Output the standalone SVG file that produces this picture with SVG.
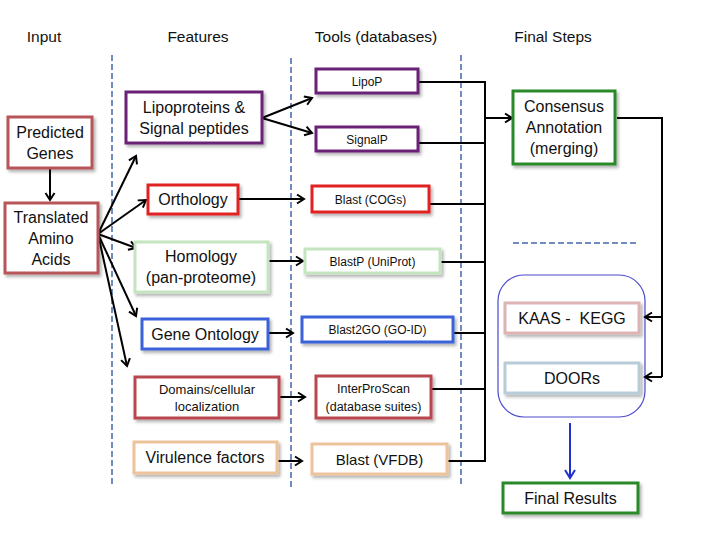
<svg xmlns="http://www.w3.org/2000/svg" width="720" height="540" viewBox="0 0 720 540">
<defs>
<filter id="sh" x="-20%" y="-20%" width="150%" height="160%">
<feDropShadow dx="2" dy="2.5" stdDeviation="1.5" flood-color="#000" flood-opacity="0.3"/>
</filter>
<marker id="ah" markerWidth="12" markerHeight="12" refX="9" refY="6" orient="auto" markerUnits="userSpaceOnUse">
<path d="M2,1.5 L9,6 L2,10.5" fill="none" stroke="#000" stroke-width="2"/>
</marker>
<marker id="ahb" markerWidth="14" markerHeight="14" refX="10" refY="7" orient="auto" markerUnits="userSpaceOnUse">
<path d="M2,2 L10,7 L2,12" fill="none" stroke="#1f2fd0" stroke-width="2"/>
</marker>
</defs>
<style>
text{font-family:"Liberation Sans",Arial,sans-serif;fill:#111;text-anchor:middle}
.hd{font-size:15.5px}
.big{font-size:16px}
.sm{font-size:12px}
.md{font-size:13px}
.box{fill:#fff;stroke-width:3;filter:url(#sh)}
.c{fill:none;stroke:#000;stroke-width:2}
.ca{fill:none;stroke:#000;stroke-width:2;marker-end:url(#ah)}
.dash{fill:none;stroke:#6f8bc0;stroke-width:2;stroke-dasharray:6,3}
</style>
<rect width="720" height="540" fill="#fff"/>

<g id="headers">
<text class="hd" x="44" y="42">Input</text>
<text class="hd" x="198" y="42">Features</text>
<text class="hd" x="376" y="42">Tools (databases)</text>
<text class="hd" x="553" y="42">Final Steps</text>
</g>

<g id="separators">
<line class="dash" x1="112" y1="55" x2="112" y2="484"/>
<line class="dash" x1="291" y1="58" x2="291" y2="487"/>
<line class="dash" x1="461" y1="55" x2="461" y2="484"/>
<line class="dash" x1="513" y1="243" x2="637" y2="243"/>
</g>

<g id="container">
<rect x="498" y="275" width="147" height="142" rx="26" fill="none" stroke="#4a4ad0" stroke-width="1.2"/>
</g>

<g id="connectors">
<line class="ca" x1="50" y1="168" x2="50" y2="200"/>
<line class="ca" x1="98" y1="234" x2="136" y2="156"/>
<line class="ca" x1="98" y1="234" x2="146" y2="200"/>
<line class="ca" x1="98" y1="234" x2="136" y2="248"/>
<line class="ca" x1="98" y1="234" x2="136" y2="316"/>
<line class="ca" x1="98" y1="234" x2="127" y2="366"/>
<line class="ca" x1="262" y1="118" x2="312" y2="98"/>
<line class="ca" x1="262" y1="118" x2="312" y2="133"/>
<line class="ca" x1="238" y1="199" x2="304" y2="199"/>
<line class="ca" x1="268" y1="261" x2="303" y2="261"/>
<line class="ca" x1="268" y1="333" x2="293" y2="333"/>
<line class="ca" x1="279" y1="397" x2="305" y2="397"/>
<line class="ca" x1="277" y1="461" x2="302" y2="461"/>
<polyline class="c" points="418,82 485,82 485,461"/>
<line class="c" x1="418" y1="143" x2="485" y2="143"/>
<line class="c" x1="429" y1="204" x2="485" y2="204"/>
<line class="c" x1="440" y1="262" x2="485" y2="262"/>
<line class="c" x1="453" y1="333" x2="485" y2="333"/>
<line class="c" x1="431" y1="389" x2="485" y2="389"/>
<line class="c" x1="447" y1="461" x2="486" y2="461"/>
<line class="ca" x1="485" y1="118" x2="512" y2="118"/>
<polyline class="c" points="617,118 662,118 662,377"/>
<line class="ca" x1="662" y1="317" x2="645" y2="317"/>
<line class="ca" x1="662" y1="377" x2="645" y2="377"/>
<line x1="570" y1="423" x2="570" y2="478" stroke="#1f2fd0" stroke-width="2" marker-end="url(#ahb)"/>
</g>

<g id="predicted">
<rect class="box" x="8" y="117" width="84" height="51" stroke="#b85459"/>
<text class="big" x="50" y="138">Predicted</text>
<text class="big" x="50" y="159">Genes</text>
</g>
<g id="translated">
<rect class="box" x="5" y="203" width="93" height="70" stroke="#b85459"/>
<text class="big" x="51" y="223">Translated</text>
<text class="big" x="51" y="244">Amino</text>
<text class="big" x="51" y="265">Acids</text>
</g>

<g id="lipoproteins">
<rect class="box" x="126" y="92" width="136" height="51" stroke="#6a2277"/>
<text class="big" x="194" y="113">Lipoproteins &amp;</text>
<text class="big" x="194" y="134">Signal peptides</text>
</g>
<g id="orthology">
<rect class="box" x="148" y="185" width="90" height="29" stroke="#e02424"/>
<text class="big" x="193" y="205">Orthology</text>
</g>
<g id="homology">
<rect class="box" x="135" y="242" width="133" height="50" stroke="#c5e4c0"/>
<text class="big" x="201" y="262">Homology</text>
<text class="big" x="201" y="283">(pan-proteome)</text>
</g>
<g id="geneontology">
<rect class="box" x="142" y="319" width="126" height="30" stroke="#3a62d8"/>
<text class="big" x="205" y="340">Gene Ontology</text>
</g>
<g id="domains">
<rect class="box" x="135" y="377" width="144" height="41" stroke="#b9464f"/>
<text class="md" x="207" y="393.5">Domains/cellular</text>
<text class="md" x="207" y="410.5">localization</text>
</g>
<g id="virulence">
<rect class="box" x="134" y="442" width="143" height="31" stroke="#edc39c"/>
<text class="big" x="205" y="463">Virulence factors</text>
</g>

<g id="lipop">
<rect class="box" x="316" y="69" width="102" height="24" stroke="#6a2277"/>
<text class="sm" x="367" y="85.5">LipoP</text>
</g>
<g id="signalp">
<rect class="box" x="316" y="127" width="102" height="24" stroke="#6a2277"/>
<text class="sm" x="367" y="143.5">SignalP</text>
</g>
<g id="blastcogs">
<rect class="box" x="312" y="186" width="117" height="26" stroke="#e02424"/>
<text class="sm" x="370.5" y="203.5">Blast (COGs)</text>
</g>
<g id="blastp">
<rect class="box" x="305" y="249" width="135" height="24" stroke="#c5e4c0"/>
<text class="sm" x="372.5" y="265.5">BlastP (UniProt)</text>
</g>
<g id="blast2go">
<rect class="box" x="302" y="317" width="151" height="25" stroke="#3a62d8"/>
<text class="sm" x="377.5" y="334">Blast2GO (GO-ID)</text>
</g>
<g id="interproscan">
<rect class="box" x="316" y="376" width="115" height="42" stroke="#b9464f"/>
<text class="sm" x="373.5" y="392.5" style="font-size:12.5px">InterProScan</text>
<text class="sm" x="373.5" y="410.5" style="font-size:12.5px">(database suites)</text>
</g>
<g id="blastvfdb">
<rect class="box" x="312" y="444" width="135" height="30" stroke="#edc39c"/>
<text x="379.5" y="464.5" style="font-size:15px">Blast (VFDB)</text>
</g>

<g id="consensus">
<rect class="box" x="513" y="91" width="102" height="73" stroke="#2a8a2a"/>
<text class="big" x="564" y="112">Consensus</text>
<text class="big" x="564" y="133">Annotation</text>
<text class="big" x="564" y="154">(merging)</text>
</g>
<g id="kaas">
<rect class="box" x="505" y="303" width="134" height="30" stroke="#dcb4b4"/>
<text class="big" x="572" y="324" style="white-space:pre" xml:space="preserve">KAAS -  KEGG</text>
</g>
<g id="doors">
<rect class="box" x="505" y="363" width="134" height="30" stroke="#b8ccd8"/>
<text class="big" x="572" y="384">DOORs</text>
</g>
<g id="finalresults">
<rect class="box" x="503" y="483" width="135" height="30" stroke="#2a8a2a"/>
<text class="big" x="570.5" y="504">Final Results</text>
</g>
</svg>
